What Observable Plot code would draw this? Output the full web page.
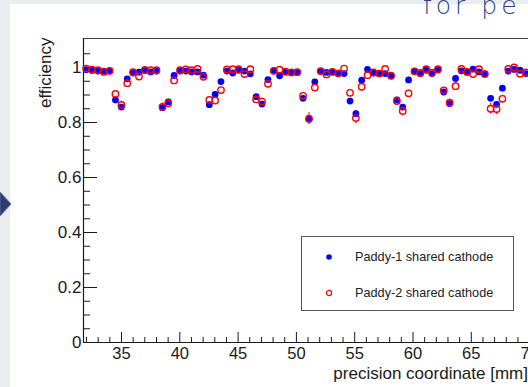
<!DOCTYPE html>
<html>
<head>
<meta charset="utf-8">
<script src="https://cdn.jsdelivr.net/npm/d3@7"></script>
<script src="https://cdn.jsdelivr.net/npm/@observablehq/plot@0.6"></script>
<style>
  html, body { margin: 0; padding: 0; }
  body { width: 528px; height: 387px; overflow: hidden; position: relative; background: #fff;
         font-family: "Liberation Sans", Arial, Helvetica, sans-serif; }
  .band { position: absolute; background: #ebecf0; }
  #chart { position: absolute; left: 0; top: 0; width: 560px; height: 387px; }
  #chart svg { position: absolute; left: 0; top: 0; max-width: none !important; width: 560px; height: 387px !important; }
  #deco { position: absolute; left: 0; top: 0; }
  #legend { position: absolute; left: 301px; top: 236px; width: 213px; height: 75px;
            border: 1px solid #555; background: #fff; box-sizing: border-box; }
  #legend .row { position: absolute; left: 0; height: 20px; display: flex; align-items: center;
                 font-size: 12.7px; color: #222; }
  #legend svg { margin-left: 22px; margin-right: 21px; }
</style>
</head>
<body>
<div class="band" style="left:0;top:0;width:528px;height:4px"></div>
<div class="band" style="left:0;top:0;width:10px;height:387px"></div>
<div id="chart"></div>
<div id="legend">
  <div class="row" style="top:10px"><svg width="10" height="10"><circle cx="5" cy="5" r="2.8" fill="#0000ff"/></svg>Paddy-1 shared cathode</div>
  <div class="row" style="top:46px"><svg width="10" height="10"><circle cx="5" cy="5" r="2.6" fill="none" stroke="#ff0000" stroke-width="1.2"/></svg>Paddy-2 shared cathode</div>
</div>
<svg id="deco" width="528" height="387">
  <polygon points="0,192 11,204 0,216" fill="#2c3d72" stroke="#5d6c9c" stroke-width="1"/>
  <text x="423" y="14" fill="#27408f" font-family="DejaVu Sans, sans-serif" font-weight="200" font-size="25" letter-spacing="4">for pe</text>
</svg>
<script>
// precision coordinate of each scan step [mm]
const position = [
  31.97, 32.47, 32.98, 33.48, 33.98, 34.48, 34.99, 35.49, 35.99, 36.50,
  37.00, 37.50, 38.00, 38.51, 39.01, 39.51, 40.02, 40.52, 41.02, 41.52,
  42.03, 42.53, 43.03, 43.53, 44.04, 44.54, 45.04, 45.55, 46.05, 46.55,
  47.05, 47.56, 48.06, 48.56, 49.07, 49.57, 50.07, 50.57, 51.08, 51.58,
  52.08, 52.58, 53.09, 53.59, 54.09, 54.60, 55.10, 55.60, 56.10, 56.61,
  57.11, 57.61, 58.12, 58.62, 59.12, 59.62, 60.13, 60.63, 61.13, 61.63,
  62.14, 62.64, 63.14, 63.65, 64.15, 64.65, 65.15, 65.66, 66.16, 66.66,
  67.17, 67.67, 68.17, 68.67, 69.18, 69.68
];

// efficiency, Paddy-1 shared cathode
const paddy1 = [
  0.992, 0.990, 0.987, 0.987, 0.987, 0.882, 0.856, 0.959, 0.980, 0.983,
  0.992, 0.984, 0.987, 0.854, 0.875, 0.971, 0.987, 0.987, 0.984, 0.984,
  0.972, 0.865, 0.902, 0.949, 0.987, 0.980, 0.990, 0.987, 0.977, 0.894,
  0.867, 0.956, 0.988, 0.970, 0.984, 0.982, 0.982, 0.888, 0.812, 0.948,
  0.986, 0.982, 0.984, 0.978, 0.978, 0.878, 0.832, 0.954, 0.993, 0.980,
  0.978, 0.978, 0.970, 0.882, 0.856, 0.955, 0.987, 0.978, 0.990, 0.978,
  0.991, 0.911, 0.869, 0.960, 0.988, 0.983, 0.994, 0.984, 0.977, 0.888,
  0.866, 0.925, 0.987, 0.993, 0.990, 0.978
];
const paddy1Err = [
  0.004, 0.004, 0.004, 0.004, 0.004, 0.010, 0.010, 0.006, 0.004, 0.004,
  0.004, 0.004, 0.004, 0.010, 0.010, 0.005, 0.004, 0.004, 0.004, 0.004,
  0.005, 0.010, 0.009, 0.007, 0.004, 0.004, 0.004, 0.004, 0.004, 0.009,
  0.010, 0.006, 0.004, 0.005, 0.004, 0.004, 0.004, 0.010, 0.012, 0.007,
  0.004, 0.004, 0.004, 0.004, 0.004, 0.010, 0.012, 0.006, 0.004, 0.004,
  0.004, 0.004, 0.005, 0.010, 0.010, 0.006, 0.004, 0.004, 0.004, 0.004,
  0.004, 0.009, 0.010, 0.006, 0.004, 0.004, 0.004, 0.004, 0.004, 0.010,
  0.010, 0.008, 0.004, 0.004, 0.004, 0.004
];

// efficiency, Paddy-2 shared cathode
const paddy2 = [
  0.996, 0.992, 0.990, 0.984, 0.988, 0.904, 0.864, 0.943, 0.983, 0.967,
  0.990, 0.990, 0.990, 0.857, 0.870, 0.953, 0.990, 0.993, 0.990, 0.995,
  0.966, 0.882, 0.880, 0.918, 0.993, 0.994, 0.994, 0.976, 0.994, 0.884,
  0.876, 0.941, 0.988, 0.992, 0.985, 0.982, 0.983, 0.897, 0.814, 0.927,
  0.987, 0.975, 0.984, 0.979, 0.996, 0.908, 0.816, 0.930, 0.972, 0.982,
  0.978, 0.995, 0.970, 0.878, 0.842, 0.906, 0.986, 0.980, 0.994, 0.981,
  0.994, 0.917, 0.872, 0.932, 0.995, 0.984, 0.976, 0.994, 0.976, 0.850,
  0.849, 0.886, 0.995, 1.000, 0.977, 0.982
];
const paddy2Err = [
  0.004, 0.004, 0.004, 0.004, 0.004, 0.012, 0.014, 0.008, 0.004, 0.005,
  0.004, 0.004, 0.004, 0.014, 0.013, 0.007, 0.004, 0.004, 0.004, 0.004,
  0.006, 0.012, 0.012, 0.010, 0.004, 0.004, 0.004, 0.005, 0.004, 0.013,
  0.013, 0.008, 0.004, 0.004, 0.004, 0.004, 0.004, 0.012, 0.022, 0.009,
  0.004, 0.005, 0.004, 0.004, 0.004, 0.012, 0.022, 0.009, 0.005, 0.004,
  0.004, 0.004, 0.006, 0.013, 0.018, 0.012, 0.004, 0.004, 0.004, 0.004,
  0.004, 0.011, 0.013, 0.009, 0.004, 0.004, 0.005, 0.004, 0.005, 0.020,
  0.020, 0.013, 0.004, 0.004, 0.005, 0.004
];

// axis divisions
const xMajor = [35, 40, 45, 50, 55, 60, 65, 70];
const xMinor = [32, 33, 34, 36, 37, 38, 39, 41, 42, 43, 44, 46, 47, 48, 49, 51, 52, 53, 54,
                56, 57, 58, 59, 61, 62, 63, 64, 66, 67, 68, 69];
const yMajor = [0, 0.2, 0.4, 0.6, 0.8, 1];
const yMinor = [0.05, 0.1, 0.15, 0.25, 0.3, 0.35, 0.45, 0.5, 0.55, 0.65, 0.7, 0.75,
                0.85, 0.9, 0.95, 1.05];
const xTitle = "precision coordinate [mm]";
const yTitle = "efficiency";

const blue = "#0000ff", red = "#ff0000", ink = "#1a1a1a";

// frame geometry in pixels
const W = 560, H = 387;
const frameLeft = 83, frameTop = 38, frameRight = 532, frameBottom = 342;
const frameW = frameRight - frameLeft, frameH = frameBottom - frameTop;

const idx = d3.range(position.length);

const chart = Plot.plot({
  width: W,
  height: H,
  marginLeft: frameLeft,
  marginRight: W - frameRight,
  marginTop: frameTop,
  marginBottom: H - frameBottom,
  x: {domain: [31.74, 70.25]},
  y: {domain: [0, 1.1055]},
  style: {background: "transparent", fontFamily: "'Liberation Sans', Arial, Helvetica, sans-serif",
          color: ink, maxWidth: "none", overflow: "visible"},
  marks: [
    Plot.frame({stroke: "#444", strokeWidth: 1}),
    Plot.ruleX([31.74], {stroke: ink, strokeWidth: 1.2}),
    Plot.ruleY([0], {stroke: ink, strokeWidth: 1.2}),
    // inward ticks
    Plot.tickX(xMajor, {x: d => d, stroke: ink, insetTop: frameH - 10}),
    Plot.tickX(xMinor, {x: d => d, stroke: ink, insetTop: frameH - 5}),
    Plot.tickY(yMajor, {y: d => d, stroke: ink, insetRight: frameW - 14}),
    Plot.tickY(yMinor, {y: d => d, stroke: ink, insetRight: frameW - 7}),
    Plot.axisX({ticks: xMajor, tickSize: 0, tickPadding: 4.8, fontSize: 16.5, label: null,
                tickFormat: d => String(d)}),
    Plot.axisY({ticks: yMajor, tickSize: 0, tickPadding: 2, fontSize: 17, label: null,
                tickFormat: d => String(d)}),
    Plot.text([xTitle], {frameAnchor: "bottom-right", textAnchor: "end", lineAnchor: "bottom",
                         dx: -4.5, dy: 36, fontSize: 17, fill: ink}),
    Plot.text([yTitle], {frameAnchor: "top-left", rotate: -90, textAnchor: "end", lineAnchor: "middle",
                         dx: -38, dy: -1, fontSize: 17, fill: ink}),
    // Paddy-2 error bars, hidden inside the open marker
    Plot.ruleX(idx, {x: i => position[i], y1: i => paddy2[i] - paddy2Err[i], y2: i => paddy2[i] + paddy2Err[i],
                     stroke: red, strokeWidth: 1}),
    Plot.dot(idx, {x: i => position[i], y: i => paddy2[i], r: 3.2, fill: "white"}),
    // Paddy-1
    Plot.ruleX(idx, {x: i => position[i], y1: i => paddy1[i] - paddy1Err[i], y2: i => paddy1[i] + paddy1Err[i],
                     stroke: blue, strokeWidth: 1}),
    Plot.dot(idx, {x: i => position[i], y: i => paddy1[i], r: 3.4, fill: blue}),
    // Paddy-2 open markers
    Plot.dot(idx, {x: i => position[i], y: i => paddy2[i], r: 3.2, fill: "none", stroke: red, strokeWidth: 1.4})
  ]
});
document.getElementById("chart").appendChild(chart);
</script>
</body>
</html>
